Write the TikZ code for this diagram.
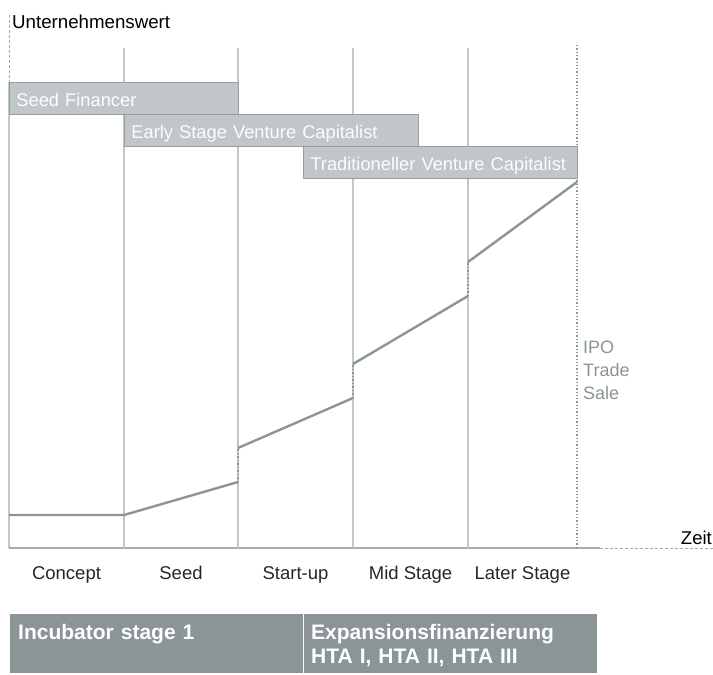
\documentclass[tikz,border=0pt]{standalone}
\usepackage{fontspec}
\setmainfont{Liberation Sans}
\definecolor{valuegrey}{HTML}{8A9597}
\definecolor{gridgrey}{HTML}{C2C8CA}
\definecolor{axisgrey}{HTML}{A3ABAD}
\definecolor{boxgrey}{HTML}{C1C6C8}
\definecolor{boxedge}{HTML}{959EA0}
\definecolor{tablegrey}{HTML}{8B9597}

\begin{document}
\begin{tikzpicture}[x=1pt,y=-1pt] % one unit is one pixel, y runs downwards
    \tikzstyle{grid}=[gridgrey, line width=1.3pt]
    \tikzstyle{value}=[valuegrey, line width=2.4pt, line join=round]
    \tikzstyle{jump}=[valuegrey, line width=1.5pt, dotted]
    \tikzstyle{investor}=[draw=boxedge, line width=0.8pt, fill=boxgrey, text=white!96!boxgrey, font=\fontsize{18.3}{20}\selectfont, anchor=north west, inner xsep=7pt, inner ysep=0pt, minimum height=32pt, text height=16pt, text depth=0pt, align=left]
    \tikzstyle{stage}=[font=\fontsize{18.5}{20}\selectfont, text=black!85, anchor=base, inner sep=0pt]
    \tikzstyle{phase}=[fill=tablegrey, text=white, font=\bfseries\fontsize{21}{24}\selectfont, anchor=north west, inner xsep=8pt, inner ysep=0pt, text height=25pt, text depth=34pt, align=left]
    \useasboundingbox (0,0) rectangle (713,675);

    % axes
    \coordinate (top) at (9,15);
    \coordinate (ytop) at (9,82);
    \coordinate (origin) at (9,548);
    \coordinate (xend) at (600,548);
    \coordinate (right) at (713,548);
    \draw[axisgrey, line width=0.9pt, dash pattern=on 3pt off 2pt] (top) -- (ytop);
    \draw[gridgrey, line width=1.3pt] (ytop) -- (origin);
    \draw[axisgrey, line width=1.3pt] (origin) -- (xend);
    \draw[axisgrey, line width=0.9pt, dash pattern=on 3pt off 2pt] (xend) -- (right);
    \node[anchor=base west, inner sep=0pt, font=\fontsize{18.7}{20}\selectfont] (ylabel) at (12,28) {Unternehmenswert};
    \node[anchor=base east, inner sep=0pt, font=\fontsize{18.5}{20}\selectfont] (xlabel) at (712,544) {Zeit};

    % stage borders
    \foreach \x in {124,238,353,468} {
        \draw[grid] (\x,48) -- (\x,548);
    }
    \coordinate (exittop) at (577,45);
    \coordinate (exitbot) at (577,548);
    \draw[valuegrey, line width=1.3pt, dotted] (exittop) -- (exitbot); % exit
    \node[anchor=west, inner sep=0pt, text=valuegrey, align=left, font=\fontsize{18}{23}\selectfont] (exit) at (583,370) {IPO\\Trade\\Sale};

    % investors
    \node[investor, text width=215pt] (seedfin) at (9,82) {Seed Financer};
    \node[investor, text width=280pt] (earlyvc) at (124,114) {Early Stage Venture Capitalist};
    \node[investor, text width=260pt] (tradvc) at (303,146) {Traditioneller Venture Capitalist};

    % company value
    \coordinate (v0) at (9,515);
    \coordinate (v1) at (124,515);
    \coordinate (v2) at (238,482);
    \coordinate (v3) at (238,448);
    \coordinate (v4) at (353,398);
    \coordinate (v5) at (353,364);
    \coordinate (v6) at (468,296);
    \coordinate (v7) at (468,262);
    \coordinate (v8) at (577,182);
    \draw[value] (v0) -- (v1) -- (v2);
    \draw[value] (v3) -- (v4);
    \draw[value] (v5) -- (v6);
    \draw[value] (v7) -- (v8);
    \draw[jump] (v2) -- (v3);
    \draw[jump] (v4) -- (v5);
    \draw[jump] (v6) -- (v7);

    % stage names
    \foreach \x/\t [count=\i] in {66.5/Concept, 181/Seed, 295.5/Start-up, 410.5/Mid Stage, 522.5/Later Stage} {
        \node[stage] (stage\i) at (\x,579) {\t};
    }

    % financing phases
    \node[phase, text width=277pt] (incubator) at (10,614) {Incubator stage 1};
    \node[phase, text width=278pt] (expansion) at (303,614) {Expansionsfinanzierung\\HTA I, HTA II, HTA III};
    \draw[white!92!tablegrey, line width=1.5pt] (incubator.north east) -- (incubator.south east);
\end{tikzpicture}
\end{document}
